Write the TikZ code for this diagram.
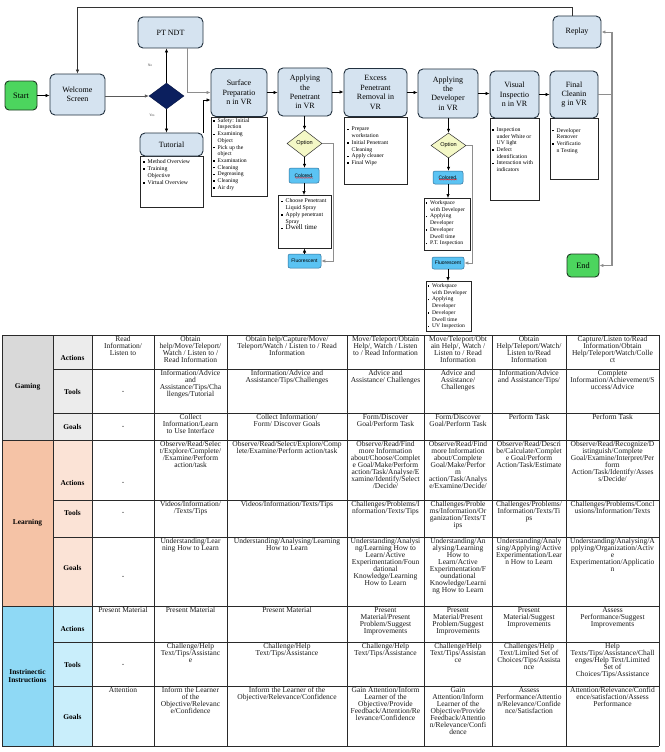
\documentclass[tikz,border=0pt]{standalone}
\usepackage{fontspec}
\setmainfont{Liberation Serif}
\newfontfamily\sansf{Liberation Sans}
\usetikzlibrary{shapes.geometric,arrows.meta,decorations.pathmorphing,shadows}
\definecolor{hdrfill}{HTML}{D5E3F0}
\definecolor{hdrdraw}{HTML}{22313F}
\definecolor{grn}{HTML}{4CD55E}
\definecolor{grndraw}{HTML}{1D3A22}
\definecolor{navy}{HTML}{0B1F5E}
\definecolor{optfill}{HTML}{F4F8C6}
\definecolor{sky}{HTML}{5BC3F3}
\definecolor{skydraw}{HTML}{2C6E98}
\definecolor{lgray}{HTML}{8E8E8E}
\definecolor{gA}{HTML}{D9D9D9}
\definecolor{gB}{HTML}{ECECEC}
\definecolor{lA}{HTML}{F5C3A6}
\definecolor{lB}{HTML}{FBE3D6}
\definecolor{iA}{HTML}{8FD9F5}
\definecolor{iB}{HTML}{C9EEFB}
\definecolor{gridc}{HTML}{2A2A2A}
\newcommand\bu{\makebox[4.5pt][l]{\rule[0.7pt]{1.4pt}{1.4pt}}}
\newcommand\hind{\hspace*{4.5pt}}
\newcommand\tc[4]{\node[cell] (#1) at (#2,#3) {#4};}
\tikzset{
 hbox/.style={draw=hdrdraw, line width=0.9pt, fill=hdrfill, rounded corners=5pt, align=center, font=\fontsize{8}{9.4}\selectfont, inner sep=0pt},
 gbox/.style={draw=grndraw, line width=0.9pt, fill=grn, rounded corners=4pt, align=center, font=\fontsize{8.3}{9.5}\selectfont, inner sep=0pt},
 lbox/.style={draw=black!85, line width=0.5pt, fill=white, inner sep=0pt, drop shadow={shadow xshift=0.9pt, shadow yshift=-0.9pt, fill=black!30, opacity=1}},
 ltext/.style={anchor=north west, align=left, font=\fontsize{5.7}{6.7}\selectfont, inner sep=0pt},
 optd/.style={diamond, draw=black!80, line width=0.5pt, fill=optfill, inner sep=0pt, minimum width=35, font=\sansf\fontsize{5.6}{6}\selectfont},
 sbox/.style={draw=skydraw, line width=0.5pt, fill=sky, rounded corners=2pt, inner sep=0pt, font=\sansf\fontsize{5}{6}\selectfont},
 arr/.style={-{Latex[length=4pt,width=3.4pt]}, line width=0.6pt, draw=black},
 garr/.style={-{Latex[length=4pt,width=3.4pt]}, line width=0.9pt, draw=lgray},
 gline/.style={line width=1.2pt, draw=lgray},
 cell/.style={anchor=north, align=center, font=\fontsize{7.5}{6.95}\selectfont, inner sep=0pt, text=black!90},
 dashcell/.style={anchor=center, font=\fontsize{7.5}{6.95}\selectfont, inner sep=0pt, text=black!80},
 lab/.style={align=center, font=\bfseries\fontsize{7.4}{8.6}\selectfont, inner sep=0pt},
 gridl/.style={draw=gridc, line width=0.6pt},
 tinylab/.style={font=\fontsize{3.6}{4}\selectfont, text=black!70, inner sep=0pt},
}
\begin{document}
\begin{tikzpicture}[x=1pt,y=-1pt]
\useasboundingbox (0,0) rectangle (664,752);
\fill[white] (0,0) rectangle (664,752);

% ---------------- list boxes (drawn first) ----------------
\node[lbox, anchor=north west, minimum width=63, minimum height=51] (tutL) at (140,156) {};
\node[ltext, font=\fontsize{5.8}{7}\selectfont] (tutT) at (143,159) {\bu Method Overview\\\bu Training\\\hind Objective\\\bu Virtual Overview};

\node[lbox, anchor=north west, minimum width=56, minimum height=79] (surfL) at (211,116.5) {};
\node[ltext] (surfT) at (213,118) {\bu Safety: Initial\\\hind Inspection\\\bu Examining\\\hind Object\\\bu Pick up the\\\hind object\\\bu Examination\\\bu Cleaning\\\bu Degreasing\\\bu Cleaning\\\bu Air dry};

\node[lbox, anchor=north west, minimum width=53, minimum height=53] (penL) at (278,195) {};
\node[ltext, font=\fontsize{5.8}{6.8}\selectfont] (penT) at (281,198.5) {\bu Choose Penetrant\\\hind Liquid Spray\\\bu Apply penetrant\\\hind Spray\\\bu {\fontsize{7}{8}\selectfont Dwell time}};

\node[lbox, anchor=north west, minimum width=63, minimum height=67] (excL) at (344,116.5) {};
\node[ltext] (excT) at (347,127) {\bu Prepare\\\hind workstation\\\bu Initial Penetrant\\\hind Cleaning\\\bu Apply cleaner\\\bu Final Wipe};

\node[lbox, anchor=north west, minimum width=46, minimum height=52] (devLa) at (424,198) {};
\node[ltext, font=\fontsize{5.6}{6.7}\selectfont] (devTa) at (425.5,200.5) {\bu Workspace\\\hind with Developer\\\bu Applying\\\hind Developer\\\bu Developer\\\hind Dwell time\\\bu P.T. Inspection};

\node[lbox, anchor=north west, minimum width=45, minimum height=50] (devLb) at (426,281) {};
\node[ltext, font=\fontsize{5.6}{6.7}\selectfont] (devTb) at (427.5,283.5) {\bu Workspace\\\hind with Developer\\\bu Applying\\\hind Developer\\\bu Developer\\\hind Dwell time\\\bu UV Inspection};

\node[lbox, anchor=north west, minimum width=49, minimum height=82] (visL) at (490,118) {};
\node[ltext] (visT) at (492,127.5) {\bu Inspection\\\hind under White or\\\hind UV light\\\bu Defect\\\hind identification\\\bu Interaction with\\\hind indicators};

\node[lbox, anchor=north west, minimum width=48, minimum height=61] (finL) at (550,118) {};
\node[ltext] (finT) at (552,128) {\bu Developer\\\hind Remover\\\bu Verificatio\\\hind n Testing};

% ---------------- main boxes ----------------
\node[gbox, minimum width=32, minimum height=29] (start) at (21,95.5) {Start};
\node[hbox, minimum width=55, minimum height=41] (welcome) at (77.5,94.5) {Welcome\\Screen};
\node[diamond, fill=navy, draw=navy!70!black, minimum width=35, minimum height=26, inner sep=0pt] (dia) at (166.5,96) {};
\node[hbox, minimum width=65, minimum height=31] (ptndt) at (170.5,32.5) {PT NDT};
\node[hbox, minimum width=63, minimum height=23] (tut) at (171.5,144.5) {Tutorial};
\node[hbox, minimum width=56, minimum height=48] (surf) at (239,92.5) {Surface\\Preparatio\\n in VR};
\node[hbox, minimum width=54, minimum height=48] (pen) at (305,92) {Applying\\the\\Penetrant\\in VR};
\node[optd, minimum height=27] (opt1) at (304.5,143.5) {Option};
\node[sbox, minimum width=30, minimum height=15] (col1) at (304,175.5) {Colored.};
\node[sbox, minimum width=33, minimum height=14] (fl1) at (304.5,261) {Fluorescent};
\node[hbox, minimum width=63, minimum height=48] (exc) at (375.5,92.5) {Excess\\Penetrant\\Removal in\\VR};
\node[hbox, minimum width=60, minimum height=49] (dev) at (448,93.5) {Applying\\the\\Developer\\in VR};
\node[optd, minimum height=25] (opt2) at (448.5,145.5) {Option};
\node[sbox, minimum width=30, minimum height=13] (col2) at (448,177.5) {Colored.};
\node[sbox, minimum width=32, minimum height=12] (fl2) at (448,263) {Fluorescent};
\node[hbox, minimum width=49, minimum height=47] (vis) at (514.5,94.5) {Visual\\Inspectio\\n in VR};
\node[hbox, minimum width=48, minimum height=47] (fin) at (574,94.5) {Final\\Cleanin\\g in VR};
\node[hbox, minimum width=48, minimum height=32] (replay) at (577,32) {Replay};
\node[gbox, minimum width=32, minimum height=23] (endn) at (583,265.5) {End};

\node[tinylab] (nolab) at (150,65) {No};
\node[tinylab] (yeslab) at (152,115) {Yes};

% spell-check squiggles
\draw[red, line width=0.3pt, decorate, decoration={snake, amplitude=0.35pt, segment length=1.6pt}] ([xshift=-9pt,yshift=-2.4pt]col1.center) -- ([xshift=9pt,yshift=-2.4pt]col1.center);
\draw[red, line width=0.3pt, decorate, decoration={snake, amplitude=0.35pt, segment length=1.6pt}] ([xshift=-9pt,yshift=-2.2pt]col2.center) -- ([xshift=9pt,yshift=-2.2pt]col2.center);

% ---------------- helper coordinates ----------------
\coordinate (toprail) at (0,7);
\coordinate (rbus) at (612,0);
\coordinate (ptdrop) at (187,0);
\coordinate (tutrise) at (203,100);
\coordinate (oax) at (333,0);
\coordinate (obx) at (472,0);
\coordinate (rtop) at ([xshift=-5pt]replay.north);

% ---------------- connectors ----------------
\draw[arr] (start.east) -- (start.east -| welcome.west);
\draw[arr, draw=black!65] (welcome.east |- dia.west) -- (dia.west);
\draw[arr] (dia.north) -- (dia.north |- ptndt.south);
\draw[arr] (dia.south) -- (dia.south |- tut.north);
\draw[garr] (ptdrop |- ptndt.south) |- (surf.west);
\draw[arr] (tut.north east) |- (surf.west |- tutrise);
\draw[arr] (surf.east) -- (surf.east -| pen.west);
\draw[arr] (pen.east) -- (pen.east -| exc.west);
\draw[arr] (exc.east) -- (exc.east -| dev.west);
\draw[arr] (dev.east) -- (dev.east -| vis.west);
\draw[arr] (vis.east) -- (vis.east -| fin.west);
\draw[arr] (pen.south -| opt1.north) -- (opt1.north);
\draw[arr] (opt1.south) -- (opt1.south |- col1.north);
\draw[arr] (col1.south) -- (col1.south |- penL.north);
\draw[arr] (fl1.north) -- (fl1.north |- penL.south);
\draw[garr] (opt1.east) -- (opt1.east -| oax) |- (fl1.east);
\draw[arr] (dev.south -| opt2.north) -- (opt2.north);
\draw[arr] (opt2.south) -- (opt2.south |- col2.north);
\draw[arr] (col2.south) -- (col2.south |- devLa.north);
\draw[garr] (opt2.east) -- (opt2.east -| obx) |- (fl2.east);
\draw[arr] (fl2.south) -- (fl2.south |- devLb.north);
\draw[gline] (fin.east) -- (fin.east -| rbus);
\draw[gline] (rbus |- replay.east) -- (rbus |- endn.east);
\draw[garr] (rbus |- replay.east) -- (replay.east);
\draw[garr] (rbus |- endn.east) -- (endn.east);
\draw[arr, draw=black!80] (rtop) -- (rtop |- toprail) -| (welcome.north);

% ---------------- table ----------------
\fill[gA] (2,335) rectangle (53,440);
\fill[gB] (53,335) rectangle (92,440);
\fill[lA] (2,440) rectangle (53,606);
\fill[lB] (53,440) rectangle (92,606);
\fill[iA] (2,606) rectangle (53,746);
\fill[iB] (53,606) rectangle (92,746);
\foreach \y in {335,440,606,746} \draw[gridl] (2,\y) -- (659,\y);
\foreach \y in {369,413,500,537,642,686} \draw[gridl] (53,\y) -- (659,\y);
\foreach \x in {2,53,92,154,227,347,424,492,566,659} \draw[gridl] (\x,335) -- (\x,746);

\node[lab] (gaming) at (27.5,387) {Gaming};
\node[lab] (learning) at (27.5,523) {Learning};
\node[lab] (instr) at (27.5,676) {Instrinectic\\Instructions};
\node[lab] (gact) at (72.5,358) {Actions};
\node[lab] (gtool) at (72.5,392) {Tools};
\node[lab] (ggoal) at (72.5,427) {Goals};
\node[lab] (lact) at (72.5,483) {Actions};
\node[lab] (ltool) at (72.5,513) {Tools};
\node[lab] (lgoal) at (72.5,568) {Goals};
\node[lab] (iact) at (72.5,629) {Actions};
\node[lab] (itool) at (72.5,665) {Tools};
\node[lab] (igoal) at (72.5,717) {Goals};

% Gaming
\tc{ga3}{123}{336.5}{Read\\Information/\\Listen to}
\tc{ga4}{190.5}{336.5}{Obtain\\help/Move/Teleport/\\Watch / Listen to /\\Read Information}
\tc{ga5}{287}{336.5}{Obtain help/Capture/Move/\\Teleport/Watch / Listen to / Read\\Information}
\tc{ga6}{385.5}{336.5}{Move/Teleport/Obtain\\Help/, Watch / Listen\\to / Read Information}
\tc{ga7}{458}{336.5}{Move/Teleport/Obt\\ain Help/, Watch /\\Listen to / Read\\Information}
\tc{ga8}{529}{336.5}{Obtain\\Help/Teleport/Watch/\\Listen to/Read\\Information}
\tc{ga9}{612.5}{336.5}{Capture/Listen to/Read\\Information/Obtain\\Help/Teleport/Watch/Colle\\ct}
\node[dashcell] (gt3) at (123,392) {-};
\tc{gt4}{190.5}{370.5}{Information/Advice\\and\\Assistance/Tips/Cha\\llenges/Tutorial}
\tc{gt5}{287}{370.5}{Information/Advice and\\Assistance/Tips/Challenges}
\tc{gt6}{385.5}{370.5}{Advice and\\Assistance/ Challenges}
\tc{gt7}{458}{370.5}{Advice and\\Assistance/\\Challenges}
\tc{gt8}{529}{370.5}{Information/Advice\\and Assistance/Tips/}
\tc{gt9}{612.5}{370.5}{Complete\\Information/Achievement/S\\uccess/Advice}
\node[dashcell] (gg3) at (123,427) {-};
\tc{gg4}{190.5}{414.5}{Collect\\Information/Learn\\to Use Interface}
\tc{gg5}{287}{414.5}{Collect Information/\\Form/ Discover Goals}
\tc{gg6}{385.5}{414.5}{Form/Discover\\Goal/Perform Task}
\tc{gg7}{458}{414.5}{Form/Discover\\Goal/Perform Task}
\tc{gg8}{529}{414.5}{Perform Task}
\tc{gg9}{612.5}{414.5}{Perform Task}

% Learning
\node[dashcell] (la3) at (123,483) {-};
\tc{la4}{190.5}{441.5}{Observe/Read/Selec\\t/Explore/Complete/\\/Examine/Perform\\action/task}
\tc{la5}{287}{441.5}{Observe/Read/Select/Explore/Comp\\lete/Examine/Perform action/task}
\tc{la6}{385.5}{441.5}{Observe/Read/Find\\more Information\\about/Choose/Complet\\e Goal/Make/Perform\\action/Task/Analyse/E\\xamine/Identify/Select\\/Decide/}
\tc{la7}{458}{441.5}{Observe/Read/Find\\more Information\\about/Complete\\Goal/Make/Perfor\\m\\action/Task/Analys\\e/Examine/Decide/}
\tc{la8}{529}{441.5}{Observe/Read/Descri\\be/Calculate/Complet\\e Goal/Perform\\Action/Task/Estimate}
\tc{la9}{612.5}{441.5}{Observe/Read/Recognize/D\\istinguish/Complete\\Goal/Examine/Interpret/Per\\form\\Action/Task/Identify/Asses\\s/Decide/}
\node[dashcell] (lt3) at (123,513) {-};
\tc{lt4}{190.5}{501.5}{Videos/Information/\\/Texts/Tips}
\tc{lt5}{287}{501.5}{Videos/Information/Texts/Tips}
\tc{lt6}{385.5}{501.5}{Challenges/Problems/I\\nformation/Texts/Tips}
\tc{lt7}{458}{501.5}{Challenges/Proble\\ms/Information/Or\\ganization/Texts/T\\ips}
\tc{lt8}{529}{501.5}{Challenges/Problems/\\Information/Texts/Ti\\ps}
\tc{lt9}{612.5}{501.5}{Challenges/Problems/Concl\\usions/Information/Texts}
\node[dashcell] (lg3) at (123,577) {-};
\tc{lg4}{190.5}{538.5}{Understanding/Lear\\ning How to Learn}
\tc{lg5}{287}{538.5}{Understanding/Analysing/Learning\\How to Learn}
\tc{lg6}{385.5}{538.5}{Understanding/Analysi\\ng/Learning How to\\Learn/Active\\Experimentation/Foun\\dational\\Knowledge/Learning\\How to Learn}
\tc{lg7}{458}{538.5}{Understanding/An\\alysing/Learning\\How to\\Learn/Active\\Experimentation/F\\oundational\\Knowledge/Learni\\ng How to Learn}
\tc{lg8}{529}{538.5}{Understanding/Analy\\sing/Applying/Active\\Experimentation/Lear\\n How to Learn}
\tc{lg9}{612.5}{538.5}{Understanding/Analysing/A\\pplying/Organization/Activ\\e\\Experimentation/Applicatio\\n}

% Instructions
\tc{ia3}{123}{607.5}{Present Material}
\tc{ia4}{190.5}{607.5}{Present Material}
\tc{ia5}{287}{607.5}{Present Material}
\tc{ia6}{385.5}{607.5}{Present\\Material/Present\\Problem/Suggest\\Improvements}
\tc{ia7}{458}{607.5}{Present\\Material/Present\\Problem/Suggest\\Improvements}
\tc{ia8}{529}{607.5}{Present\\Material/Suggest\\Improvements}
\tc{ia9}{612.5}{607.5}{Assess\\Performance/Suggest\\Improvements}
\node[dashcell] (it3) at (123,665) {-};
\tc{it4}{190.5}{643.5}{Challenge/Help\\Text/Tips/Assistanc\\e}
\tc{it5}{287}{643.5}{Challenge/Help\\Text/Tips/Assistance}
\tc{it6}{385.5}{643.5}{Challenge/Help\\Text/Tips/Assistance}
\tc{it7}{458}{643.5}{Challenge/Help\\Text/Tips/Assistan\\ce}
\tc{it8}{529}{643.5}{Challenges/Help\\Text/Limited Set of\\Choices/Tips/Assista\\nce}
\tc{it9}{612.5}{643.5}{Help\\Texts/Tips/Assistance/Chall\\enges/Help Text/Limited\\Set of\\Choices/Tips/Assistance}
\tc{ig3}{123}{687.5}{Attention}
\tc{ig4}{190.5}{687.5}{Inform the Learner\\of the\\Objective/Relevanc\\e/Confidence}
\tc{ig5}{287}{687.5}{Inform the Learner of the\\Objective/Relevance/Confidence}
\tc{ig6}{385.5}{687.5}{Gain Attention/Inform\\Learner of the\\Objective/Provide\\Feedback/Attention/Re\\levance/Confidence}
\tc{ig7}{458}{687.5}{Gain\\Attention/Inform\\Learner of the\\Objective/Provide\\Feedback/Attentio\\n/Relevance/Confi\\dence}
\tc{ig8}{529}{687.5}{Assess\\Performance/Attentio\\n/Relevance/Confide\\nce/Satisfaction}
\tc{ig9}{612.5}{687.5}{Attention/Relevance/Confid\\ence/satisfaction/Assess\\Performance}
\end{tikzpicture}
\end{document}
